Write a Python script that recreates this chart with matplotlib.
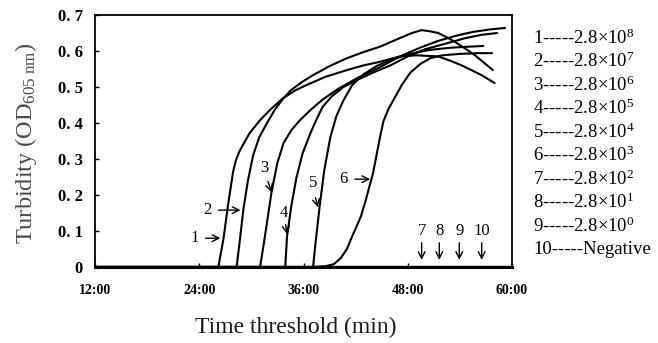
import matplotlib
matplotlib.use("Agg")
import matplotlib.pyplot as plt

plt.rcParams['font.family'] = ['Liberation Serif', 'DejaVu Serif']
plt.rcParams['mathtext.fontset'] = 'custom'
plt.rcParams['mathtext.rm'] = 'Liberation Serif'
plt.rcParams['mathtext.it'] = 'Liberation Serif:italic'
plt.rcParams['mathtext.bf'] = 'Liberation Serif:bold'

# ---- data (time in minutes, turbidity OD605) ----
t1 = [12, 26.2, 26.5, 26.8, 27.3, 27.9, 28.2, 28.6, 29.0, 29.8, 31.0, 32.3, 33.6, 35.0, 36.4,
      38.5, 41.0, 42.9, 44.8, 47.1, 49.0, 51.5, 53.0, 54.2, 55.4, 56.5, 58.0]
y1 = [0, 0, 0.04, 0.08, 0.17, 0.265, 0.295, 0.32, 0.338, 0.372, 0.408, 0.44, 0.468, 0.49, 0.506,
      0.528, 0.547, 0.56, 0.57, 0.585, 0.588, 0.585, 0.572, 0.56, 0.546, 0.533, 0.511]

t2 = [12, 28.3, 28.7, 29.07, 29.6, 30.2, 30.9, 31.8, 32.7, 33.6, 34.5, 35.7, 37.1, 39.0,
      41.0, 42.9, 44.8, 47.1, 48.5, 49.6, 50.5, 51.5, 52.5, 53.4, 54.6, 55.7, 56.8, 57.8]
y2 = [0, 0, 0.08, 0.158, 0.24, 0.31, 0.36, 0.40, 0.437, 0.466, 0.49, 0.512, 0.533, 0.558,
      0.58, 0.597, 0.612, 0.636, 0.65, 0.658, 0.655, 0.65, 0.638, 0.626, 0.607, 0.589, 0.567, 0.547]

t3 = [12, 31.0, 31.4, 31.9, 32.3, 33.0, 33.7, 34.6, 35.6, 36.8, 38.2, 40.0, 42.2, 44.8,
      47.1, 49.5, 51.5, 53.5, 55.5, 57.5, 59.2]
y3 = [0, 0, 0.06, 0.14, 0.205, 0.29, 0.344, 0.38, 0.408, 0.436, 0.465, 0.495, 0.525, 0.555,
      0.585, 0.61, 0.628, 0.642, 0.653, 0.66, 0.664]

t4 = [12, 33.9, 34.1, 34.6, 35.2, 35.9, 36.8, 37.5, 38.2, 39.3, 40.6, 42.2, 44.0, 46.0,
      48.0, 50.0, 52.3, 54.5, 56.5, 58.3]
y4 = [0, 0, 0.084, 0.17, 0.25, 0.316, 0.372, 0.41, 0.445, 0.475, 0.50, 0.52, 0.54, 0.56,
      0.585, 0.605, 0.62, 0.635, 0.645, 0.65]

t5 = [12, 37.1, 37.4, 37.9, 38.4, 39.1, 39.8, 40.6, 41.6, 42.9, 44.4, 46.0, 48.3, 50.5,
      52.9, 55.0, 56.7]
y5 = [0, 0, 0.07, 0.177, 0.27, 0.362, 0.42, 0.463, 0.505, 0.535, 0.558, 0.575, 0.592, 0.603,
      0.609, 0.612, 0.614]

t6 = [12, 37.0, 38.5, 39.5, 40.3, 41.0, 41.6, 42.1, 42.6, 43.1, 43.6, 44.0, 44.4, 44.8,
      45.2, 45.8, 46.5, 47.3, 48.3, 49.5, 50.6, 52.0, 54.0, 56.0, 57.7]
y6 = [0, 0, 0.002, 0.008, 0.025, 0.05, 0.085, 0.112, 0.14, 0.18, 0.225, 0.26, 0.31, 0.36,
      0.405, 0.44, 0.47, 0.505, 0.54, 0.565, 0.58, 0.588, 0.592, 0.594, 0.594]

t_neg = [12, 60]
y_neg = [0, 0]

curves_t = [t1, t2, t3, t4, t5, t6, t_neg, t_neg, t_neg, t_neg]
curves_y = [y1, y2, y3, y4, y5, y6, y_neg, y_neg, y_neg, y_neg]

xticks = [12, 24, 36, 48, 60]
xticklabels = ['12:00', '24:00', '36:00', '48:00', '60:00']
yticks = [0, 0.1, 0.2, 0.3, 0.4, 0.5, 0.6, 0.7]
yticklabels = ['0', '0. 1', '0. 2', '0. 3', '0. 4', '0. 5', '0. 6', '0. 7']

legend_lines = ['1-----2.8$\\times$10$^{8}$', '2-----2.8$\\times$10$^{7}$',
                '3-----2.8$\\times$10$^{6}$', '4-----2.8$\\times$10$^{5}$',
                '5-----2.8$\\times$10$^{4}$', '6-----2.8$\\times$10$^{3}$',
                '7-----2.8$\\times$10$^{2}$', '8-----2.8$\\times$10$^{1}$',
                '9-----2.8$\\times$10$^{0}$', '10-----Negative']

# annotations: label, text position (t, y), arrow start (t, y), arrow tip (t, y)
ann_labels = ['1', '2', '3', '4', '5', '6']
ann_text = [(23.5, 0.08), (24.9, 0.158), (31.45, 0.274), (33.76, 0.15), (37.13, 0.232), (40.6, 0.244)]
ann_start = [(24.4, 0.08), (25.9, 0.158), (31.8, 0.245), (33.9, 0.125), (37.3, 0.2), (41.6, 0.244)]
ann_tip = [(26.75, 0.08), (29.07, 0.158), (32.45, 0.2), (34.16, 0.083), (37.75, 0.158), (44.0, 0.244)]

neg_labels = ['7', '8', '9', '10']
neg_t = [49.6, 51.63, 53.93, 56.51]

# ---- figure ----
fig = plt.figure(figsize=(6.58, 3.43), dpi=100)
ax = fig.add_axes([95/658, 76/343, 417/658, 252/343])

for tt, yy in zip(curves_t, curves_y):
    ax.plot(tt, yy, color='black', lw=1.5, solid_capstyle='round', solid_joinstyle='round')

ax.set_xlim(12, 60)
ax.set_ylim(0, 0.7)
ax.set_xticks(xticks)
ax.set_xticklabels(xticklabels, fontsize=10, fontweight='bold')
ax.set_yticks(yticks)
ax.set_yticklabels(yticklabels, fontsize=12, fontweight='bold')
ax.tick_params(axis='x', direction='in', length=3, width=1, pad=12)
ax.tick_params(axis='y', direction='in', length=3, width=1, pad=9)
for s in ax.spines.values():
    s.set_linewidth(1.3)
ax.spines['bottom'].set_linewidth(2.2)

ax.set_xlabel('Time threshold (min)', fontsize=17, color='#1a1a1a')
ax.xaxis.label.set_va('center')
ax.xaxis.set_label_coords((296 - 95) / 417, (267 - 327) / 252)
ax.set_ylabel('Turbidity (OD$_{605\\ \\mathrm{nm}}$)', fontsize=17.5, color='#4a4a4a')
ax.yaxis.label.set_va('center')
ax.yaxis.set_label_coords((26 - 95) / 417, 0.49)

arrowprops = dict(arrowstyle='->', color='black', lw=1.0, mutation_scale=12)
for lab, (tx, ty), (sx, sy), (ex, ey) in zip(ann_labels, ann_text, ann_start, ann_tip):
    ax.text(tx, ty, lab, fontsize=12, ha='center', va='center')
    ax.annotate('', xy=(ex, ey), xytext=(sx, sy), arrowprops=arrowprops)

for lab, tx in zip(neg_labels, neg_t):
    ax.text(tx, 0.10, lab, fontsize=12, ha='center', va='center')
    ax.annotate('', xy=(tx, 0.012), xytext=(tx, 0.075), arrowprops=arrowprops)

for i, s in enumerate(legend_lines):
    fig.text(533/658, 1 - (38 + i*23.5)/343, s, fontsize=13.5, ha='left', va='center')

fig.savefig('out.png', dpi=100)
